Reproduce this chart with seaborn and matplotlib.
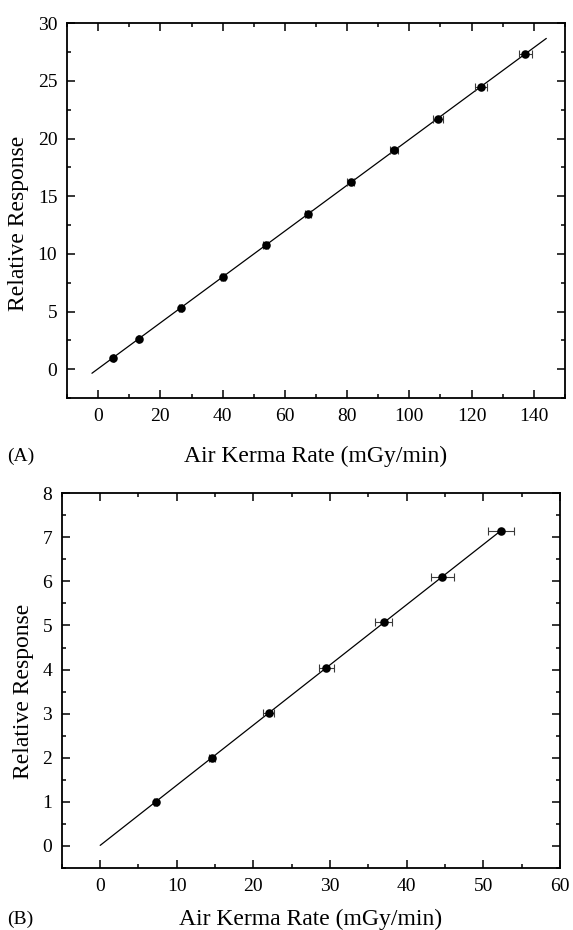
import numpy as np
import pandas as pd
import matplotlib
matplotlib.use("Agg")
import matplotlib.pyplot as plt
from matplotlib.ticker import MultipleLocator
import seaborn as sns

# Panel A: relative response vs air kerma rate
rate_a = [4.9, 13.0, 26.5, 40.0, 53.8, 67.4, 81.2, 95.0, 109.1, 123.0, 137.3]
resp_a = [1.01, 2.60, 5.31, 8.02, 10.73, 13.50, 16.24, 19.00, 21.66, 24.50, 27.34]
rate_err_a = [0.1, 0.2, 0.4, 0.6, 0.8, 0.9, 1.1, 1.3, 1.6, 1.8, 2.0]

# Panel B
rate_b = [7.27, 14.63, 21.98, 29.5, 37.0, 44.67, 52.37]
resp_b = [1.00, 2.00, 3.02, 4.04, 5.08, 6.10, 7.15]
rate_err_b = [0.2, 0.4, 0.72, 0.96, 1.15, 1.46, 1.7]

x_ticks_a = [0, 20, 40, 60, 80, 100, 120, 140]
y_ticks_a = [0, 5, 10, 15, 20, 25, 30]
x_ticks_b = [0, 10, 20, 30, 40, 50, 60]
y_ticks_b = [0, 1, 2, 3, 4, 5, 6, 7, 8]

sns.set_theme(style="ticks")
plt.rcParams["font.family"] = ["Liberation Serif", "DejaVu Serif"]
plt.rcParams["mathtext.fontset"] = "stix"

fig = plt.figure(figsize=(5.73, 9.30), dpi=100)
ax_a = fig.add_axes([0.117, 0.572, 0.869, 0.403])
ax_b = fig.add_axes([0.108, 0.0667, 0.869, 0.403])


def draw_panel(ax, x, y, xerr, fit_range, xlim, ylim, xticks, yticks,
               xminor, yminor, xpad, ylab_y):
    df = pd.DataFrame({"rate": x, "resp": y})
    # linear fit through the measurements
    slope, intercept = np.polyfit(x, y, 1)
    xs = np.linspace(fit_range[0], fit_range[1], 50)
    fit = pd.DataFrame({"rate": xs, "resp": slope * xs + intercept})
    sns.lineplot(data=fit, x="rate", y="resp", ax=ax, color="black",
                 linewidth=0.9, zorder=2)
    ax.errorbar(x, y, xerr=xerr, fmt="none", ecolor="#3a3a3a",
                elinewidth=0.8, capsize=3, capthick=0.8, zorder=3)
    sns.scatterplot(data=df, x="rate", y="resp", ax=ax, color="black",
                    s=38, edgecolor="black", linewidth=0, zorder=4)
    ax.set_xlim(*xlim)
    ax.set_ylim(*ylim)
    ax.set_xticks(xticks)
    ax.set_yticks(yticks)
    ax.xaxis.set_minor_locator(MultipleLocator(xminor))
    ax.yaxis.set_minor_locator(MultipleLocator(yminor))
    ax.tick_params(which="both", direction="in", top=True, right=True,
                   width=1.1, labelsize=14, color="black", labelcolor="black")
    ax.tick_params(which="major", length=6, pad=7)
    ax.tick_params(which="minor", length=3)
    for s in ax.spines.values():
        s.set_linewidth(1.3)
        s.set_color("black")
    ax.set_xlabel("Air Kerma Rate (mGy/min)", fontsize=17, labelpad=xpad,
                  color="black")
    ax.set_ylabel("Relative Response", fontsize=17, labelpad=6,
                  color="black")
    ax.yaxis.label.set_y(ylab_y)


draw_panel(ax_a, rate_a, resp_a, rate_err_a, (-2, 144), (-10, 150),
           (-2.5, 30), x_ticks_a, y_ticks_a, 10, 2.5, 15, 0.465)
draw_panel(ax_b, rate_b, resp_b, rate_err_b, (0, rate_b[-1]), (-5, 60),
           (-0.5, 8), x_ticks_b, y_ticks_b, 5, 0.5, 10, 0.47)

# panel tags
fig.text(0.012, 0.5097, "(A)", fontsize=14, ha="left", va="center",
         color="black")
fig.text(0.012, 0.0118, "(B)", fontsize=14, ha="left", va="center",
         color="black")

fig.savefig("out.png", dpi=100, facecolor="white")
